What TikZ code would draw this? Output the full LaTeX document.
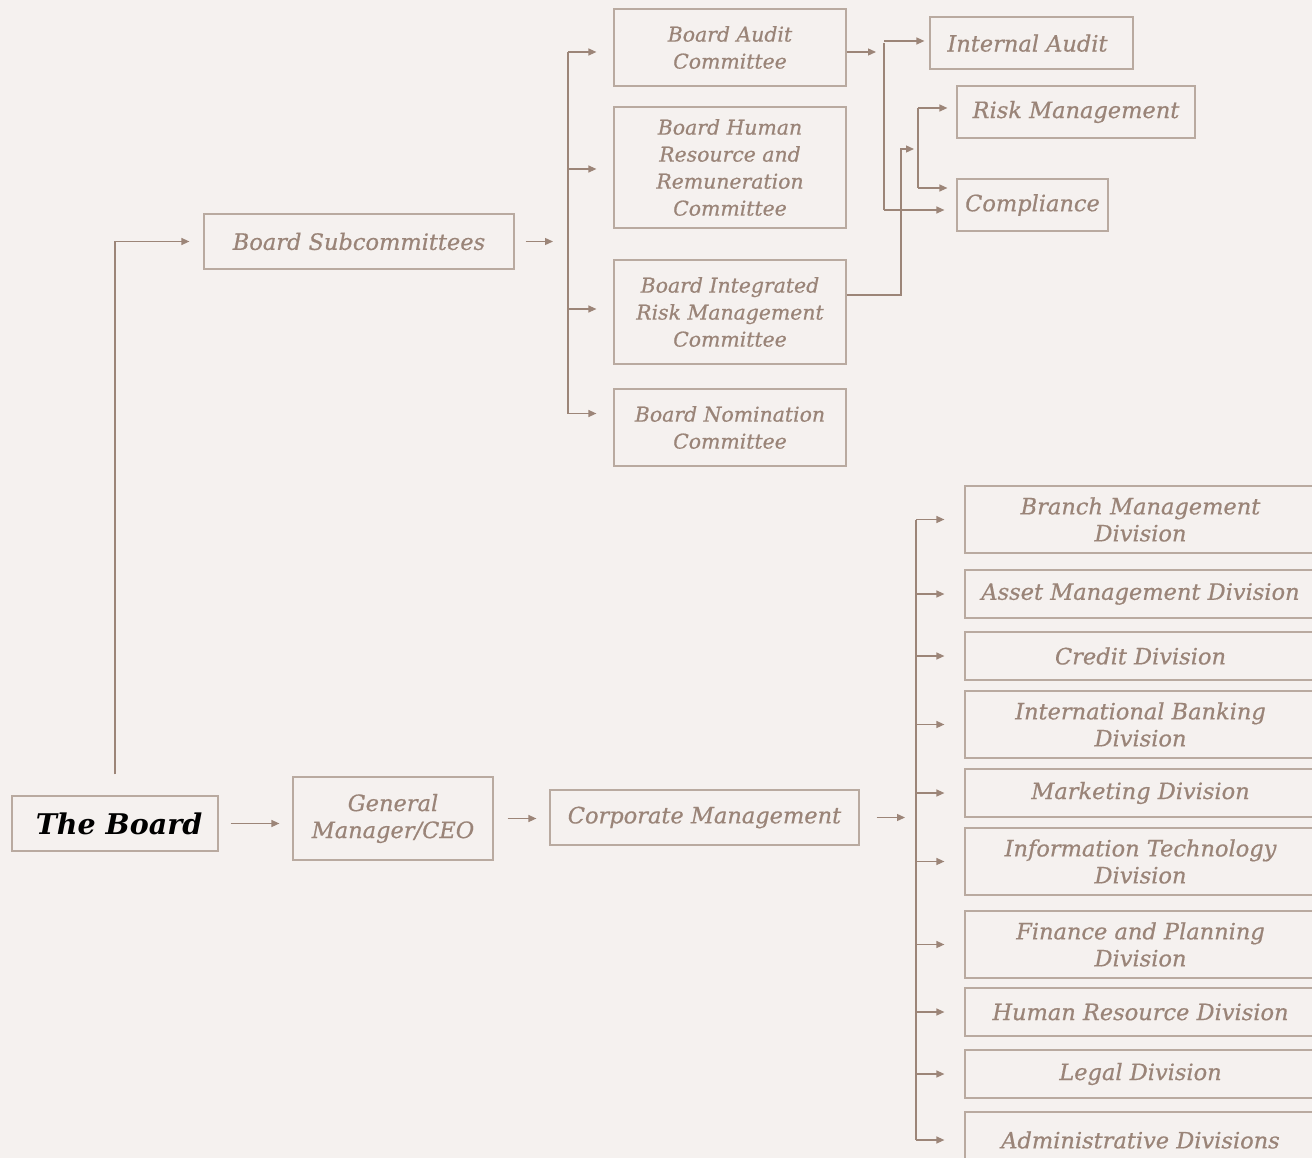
\documentclass[tikz,border=0pt]{standalone}
\usepackage{fontspec}
\setmainfont{DejaVu Serif}[ItalicFeatures={FakeBold=0.6}]
\usetikzlibrary{arrows.meta}
\definecolor{bgcol}{HTML}{F5F1EF}
\definecolor{txtcol}{HTML}{9A8478}
\definecolor{edgecol}{HTML}{B9AAA0}
\definecolor{arrcol}{HTML}{9C8578}
\tikzset{
	box/.style={draw=edgecol, line width=1.2pt, text=txtcol, align=center, inner sep=0pt,
		font=\itshape\fontsize{22.5}{27}\selectfont},
	subbox/.style={box, minimum width=232, font=\itshape\fontsize{20.4}{27}\selectfont},
	divbox/.style={box, minimum width=351},
	bus/.style={draw=arrcol, line width=1.3pt},
	arr/.style={bus, -{Triangle[length=8pt,width=7pt]}}
}
\begin{document}
\begin{tikzpicture}[x=1pt, y=-1pt]
\fill[bgcol] (0,0) rectangle (1312,1158);
\useasboundingbox (0,0) rectangle (1312,1158);
% main line
\node[box, minimum width=206, minimum height=55, text=black,
	font=\bfseries\itshape\fontsize{28.5}{32}\selectfont] (board) at (115,823.5) {\hspace*{8pt}The Board};
\node[box, minimum width=200, minimum height=83] (gm) at (393,818.5) {General\\Manager/CEO};
\node[box, minimum width=309, minimum height=55] (corp) at (704.5,817.5) {Corporate Management};
\node[box, minimum width=310, minimum height=55] (subc) at (359,241.5) {Board Subcommittees};
% board subcommittees
\node[subbox, minimum height=77] (audit) at (730,47.5) {Board Audit\\Committee};
\node[subbox, minimum height=121] (hrc) at (730,167.5) {Board Human\\Resource and\\Remuneration\\Committee};
\node[subbox, minimum height=104] (birmc) at (730,312) {Board Integrated\\Risk Management\\Committee};
\node[subbox, minimum height=77] (nom) at (730,427.5) {Board Nomination\\Committee};
% control functions
\node[box, minimum width=203, minimum height=52, text depth=0pt] (ia) at (1031.5,43) {\hspace*{-8pt}Internal Audit};
\node[box, minimum width=238, minimum height=52] (risk) at (1076,112) {Risk Management};
\node[box, minimum width=151, minimum height=52] (comp) at (1032.5,205) {Compliance};
% divisions
\foreach \y/\h/\nm/\txt in {
	519.5/67/branch/{Branch Management\\Division},
	594/48/asset/{Asset Management Division},
	656/48/credit/{Credit Division},
	724.5/67/intl/{International Banking\\Division},
	793/48/mkt/{Marketing Division},
	861.5/67/it/{Information Technology\\Division},
	944.5/67/fin/{Finance and Planning\\Division},
	1012/48/hr/{Human Resource Division},
	1074/48/legal/{Legal Division},
	1140/56/admin/{Administrative Divisions}} {
	\node[divbox, minimum height=\h] (div\nm) at (1140.5,\y) {\txt};
	\draw[arr, shorten >=20pt] (div\nm.west -| 916,0) -- (div\nm.west);
}
\coordinate (dbus) at (916,817);
\coordinate (sbus) at (568,241);
\coordinate (abus) at (884,52);
\coordinate (rjoin) at (918,149);
% connectors
\draw[arr, shorten <=12pt, shorten >=13pt] (board.east) -- (board.east -| gm.west);
\draw[arr, shorten <=14pt, shorten >=13pt] (gm.east) -- (gm.east -| corp.west);
\draw[arr, shorten <=17pt, shorten >=11pt] (corp.east) -- (corp.east -| dbus);
\draw[bus] (divbranch.west -| dbus) -- (divadmin.west -| dbus);
\draw[arr, shorten <=21pt, shorten >=14pt] (board.north) |- (subc.west);
\draw[arr, shorten <=11pt, shorten >=15pt] (subc.east) -- (subc.east -| sbus);
\draw[bus] ([yshift=-4.5pt]audit.west -| sbus) -- ([yshift=14pt]nom.west -| sbus);
\draw[arr, shorten >=17pt] ([yshift=-4.5pt]audit.west -| sbus) -- ([yshift=-4.5pt]audit.west);
\draw[arr, shorten >=17pt] ([yshift=-1.5pt]hrc.west -| sbus) -- ([yshift=-1.5pt]hrc.west);
\draw[arr, shorten >=17pt] ([yshift=3pt]birmc.west -| sbus) -- ([yshift=3pt]birmc.west);
\draw[arr, shorten >=17pt] ([yshift=14pt]nom.west -| sbus) -- ([yshift=14pt]nom.west);
% audit to control functions
\draw[arr, shorten >=8pt] ([yshift=-4.5pt]audit.east) -- (abus);
\draw[bus] (ia.west -| abus) -- ([yshift=-5pt]comp.west -| abus);
\draw[arr, shorten >=5pt] ([yshift=2pt]ia.west -| abus) -- ([yshift=2pt]ia.west);
\draw[arr, shorten >=12pt] ([yshift=-5pt]comp.west -| abus) -- ([yshift=-5pt]comp.west);
% risk committee
\draw[arr, shorten >=4pt] ([yshift=17pt]birmc.east) -| ([xshift=-17pt]rjoin) -- (rjoin);
\draw[bus] ([yshift=4pt]risk.west -| rjoin) -- ([yshift=17pt]comp.west -| rjoin);
\draw[arr, shorten >=9pt] ([yshift=4pt]risk.west -| rjoin) -- ([yshift=4pt]risk.west);
\draw[arr, shorten >=9pt] ([yshift=17pt]comp.west -| rjoin) -- ([yshift=17pt]comp.west);
\end{tikzpicture}
\end{document}
